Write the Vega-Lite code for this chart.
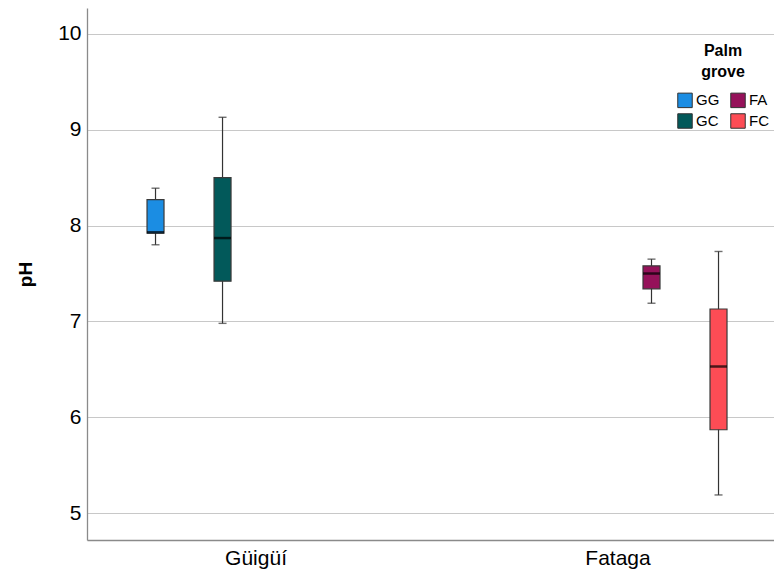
{
  "$schema": "https://vega.github.io/schema/vega-lite/v6.json",
  "autosize": {"type": "none"},
  "width": 687,
  "height": 532,
  "padding": {"left": 87, "top": 8, "right": 0, "bottom": 34},
  "background": "white",
  "config": {
    "view": {"stroke": null},
    "font": "Liberation Sans"
  },
  "data": {
    "values": [
      {"site": "Güigüí", "group": "GG", "lower": 7.80, "q1": 7.92, "median": 7.93, "q3": 8.27, "upper": 8.39},
      {"site": "Güigüí", "group": "GC", "lower": 6.98, "q1": 7.42, "median": 7.87, "q3": 8.50, "upper": 9.13},
      {"site": "Fataga", "group": "FA", "lower": 7.19, "q1": 7.34, "median": 7.50, "q3": 7.58, "upper": 7.65},
      {"site": "Fataga", "group": "FC", "lower": 5.19, "q1": 5.87, "median": 6.53, "q3": 7.13, "upper": 7.73}
    ]
  },
  "encoding": {
    "x": {
      "field": "site", "type": "nominal",
      "sort": ["Güigüí", "Fataga"],
      "scale": {"paddingInner": 0.138, "paddingOuter": 0.018, "align": 1},
      "axis": {
        "title": null, "labelAngle": 0, "labelFontSize": 21, "labelColor": "#000",
        "ticks": false, "labelPadding": 7, "domainColor": "#8a8a8a", "domainWidth": 1.3, "grid": false
      }
    },
    "xOffset": {
      "field": "group", "type": "nominal",
      "scale": {"domain": ["GG", "GC", "FA", "FC"], "paddingInner": 0, "paddingOuter": 0.328}
    }
  },
  "layer": [
    {
      "mark": {"type": "rule", "color": "#333", "strokeWidth": 1.2},
      "encoding": {
        "y": {
          "field": "lower", "type": "quantitative",
          "scale": {"domain": [4.72, 10.27], "nice": false, "zero": false},
          "axis": {
            "title": "pH", "titleFontSize": 19, "titleFontWeight": "bold", "titleColor": "#000", "titlePadding": 22,
            "values": [5, 6, 7, 8, 9, 10], "format": "d", "labelFontSize": 21, "labelColor": "#000", "labelPadding": 6,
            "ticks": false, "domainColor": "#8a8a8a", "domainWidth": 1.3,
            "grid": true, "gridColor": "#c8c8c8", "gridWidth": 1.2
          }
        },
        "y2": {"field": "upper"}
      }
    },
    {
      "mark": {"type": "tick", "color": "#333", "size": 8, "thickness": 1.4, "orient": "horizontal"},
      "encoding": {"y": {"field": "lower", "type": "quantitative"}}
    },
    {
      "mark": {"type": "tick", "color": "#333", "size": 8, "thickness": 1.4, "orient": "horizontal"},
      "encoding": {"y": {"field": "upper", "type": "quantitative"}}
    },
    {
      "mark": {"type": "bar", "size": 17, "stroke": "#3a3a3a", "strokeWidth": 1.2},
      "encoding": {
        "y": {"field": "q1", "type": "quantitative"},
        "y2": {"field": "q3"},
        "color": {
          "field": "group", "type": "nominal",
          "scale": {"domain": ["GG", "GC", "FA", "FC"], "range": ["#1B8DE3", "#02595A", "#95125A", "#FD4C55"]},
          "legend": {
            "title": ["Palm", "grove"],
            "orient": "none", "legendX": 590, "legendY": 35,
            "columns": 2, "columnPadding": 8, "rowPadding": 1,
            "titleAnchor": "middle", "titleFontSize": 16, "titleFontWeight": "bold", "titleColor": "#000",
            "titlePadding": 12, "titleLineHeight": 21,
            "symbolType": "square", "symbolSize": 210, "symbolStrokeColor": "#333", "symbolStrokeWidth": 1,
            "labelFontSize": 15, "labelColor": "#000", "labelOffset": 3
          }
        }
      }
    },
    {
      "mark": {"type": "tick", "color": "#000", "size": 17, "thickness": 2.5, "orient": "horizontal"},
      "encoding": {"y": {"field": "median", "type": "quantitative"}}
    }
  ]
}
